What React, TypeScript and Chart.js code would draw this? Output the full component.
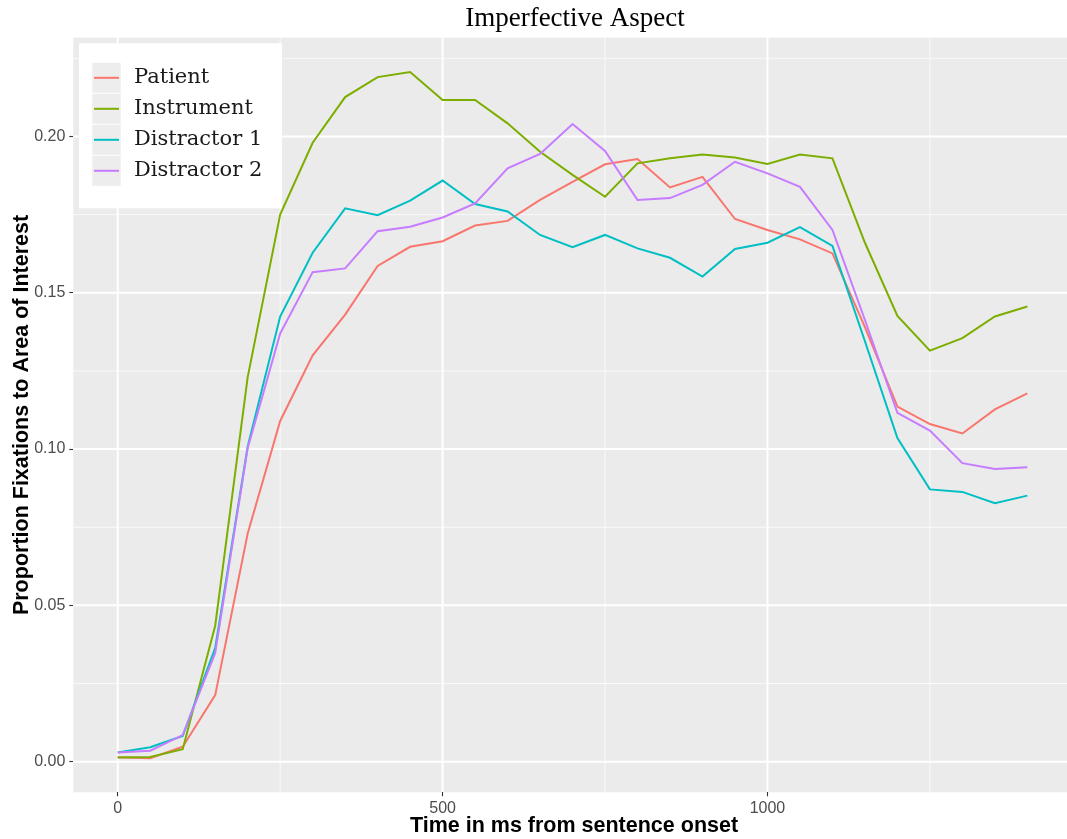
import React, { useEffect, useRef } from "react";
import { Chart, registerables } from "chart.js";

Chart.register(...registerables);

// ---------- data ----------
const times = [0, 50, 100, 150, 200, 250, 300, 350, 400, 450, 500, 550, 600, 650, 700, 750, 800, 850, 900, 950, 1000, 1050, 1100, 1150, 1200, 1250, 1300, 1350, 1400];

const patient = [0.0014, 0.0011, 0.0048, 0.0213, 0.073, 0.109, 0.130, 0.143, 0.1586, 0.1647, 0.1665, 0.1715, 0.173, 0.1797, 0.1855, 0.1911, 0.1928, 0.1837, 0.1871, 0.1736, 0.1701, 0.1671, 0.1626, 0.139, 0.1136, 0.108, 0.105, 0.1127, 0.1178];
const instrument = [0.0013, 0.0015, 0.004, 0.0435, 0.123, 0.175, 0.198, 0.2126, 0.219, 0.2206, 0.2117, 0.2117, 0.2042, 0.1951, 0.1877, 0.1807, 0.1914, 0.193, 0.1942, 0.1933, 0.1912, 0.1942, 0.193, 0.166, 0.1426, 0.1315, 0.1355, 0.1424, 0.1456];
const distractor1 = [0.0029, 0.0046, 0.0082, 0.0364, 0.1008, 0.1424, 0.1628, 0.177, 0.1748, 0.1795, 0.1859, 0.1784, 0.176, 0.1685, 0.1646, 0.1685, 0.1642, 0.1612, 0.1552, 0.164, 0.166, 0.171, 0.165, 0.1345, 0.1035, 0.0871, 0.0863, 0.0827, 0.0851];
const distractor2 = [0.0029, 0.0035, 0.0085, 0.0348, 0.1003, 0.137, 0.1566, 0.1578, 0.1697, 0.1711, 0.1741, 0.1786, 0.1898, 0.1944, 0.204, 0.1954, 0.1797, 0.1803, 0.1845, 0.1919, 0.1882, 0.1839, 0.1701, 0.1413, 0.1116, 0.1059, 0.0955, 0.0936, 0.0942];

const seriesNames = ["Patient", "Instrument", "Distractor 1", "Distractor 2"];
const seriesValues = [patient, instrument, distractor1, distractor2];
const seriesColors = ["#F8766D", "#7CAE00", "#00BFC4", "#C77CFF"];

const yMajor = [0, 0.05, 0.1, 0.15, 0.2];
const yMinor = [0.025, 0.075, 0.125, 0.175, 0.225];
const yTickLabels = ["0.00", "0.05", "0.10", "0.15", "0.20"];
const xMajor = [0, 500, 1000];
const xMinor = [250, 750, 1250];
const xTickLabels = ["0", "500", "1000"];

const titleText = "Imperfective Aspect";
const xTitle = "Time in ms from sentence onset";
const yTitle = "Proportion Fixations to Area of Interest";

const W = 1067;
const H = 839;

const panelPlugin = {
  id: "panel",
  beforeDraw(chart: any) {
    const { ctx, chartArea } = chart;
    const xs = chart.scales.x;
    const ys = chart.scales.y;
    ctx.save();
    ctx.fillStyle = "#EBEBEB";
    ctx.fillRect(chartArea.left, chartArea.top, chartArea.right - chartArea.left, chartArea.bottom - chartArea.top);
    // minor
    ctx.strokeStyle = "rgba(255,255,255,0.75)";
    ctx.lineWidth = 1;
    yMinor.forEach((v) => {
      const y = ys.getPixelForValue(v);
      ctx.beginPath();
      ctx.moveTo(chartArea.left, y);
      ctx.lineTo(chartArea.right, y);
      ctx.stroke();
    });
    xMinor.forEach((v) => {
      const x = xs.getPixelForValue(v);
      ctx.beginPath();
      ctx.moveTo(x, chartArea.top);
      ctx.lineTo(x, chartArea.bottom);
      ctx.stroke();
    });
    // major
    ctx.strokeStyle = "#FFFFFF";
    ctx.lineWidth = 2;
    yMajor.forEach((v) => {
      const y = ys.getPixelForValue(v);
      ctx.beginPath();
      ctx.moveTo(chartArea.left, y);
      ctx.lineTo(chartArea.right, y);
      ctx.stroke();
    });
    xMajor.forEach((v) => {
      const x = xs.getPixelForValue(v);
      ctx.beginPath();
      ctx.moveTo(x, chartArea.top);
      ctx.lineTo(x, chartArea.bottom);
      ctx.stroke();
    });
    ctx.restore();
  },
};

const textPlugin = {
  id: "texts",
  afterDraw(chart: any) {
    const { ctx, chartArea } = chart;
    ctx.save();
    // title
    ctx.fillStyle = "#000";
    ctx.font = "27px 'Liberation Serif'";
    ctx.textAlign = "center";
    ctx.textBaseline = "alphabetic";
    ctx.fillText(titleText, 575, 26);
    // x title
    ctx.font = "bold 21.5px 'Liberation Sans'";
    ctx.textBaseline = "middle";
    ctx.fillText(xTitle, 574, 826);
    // y title
    ctx.save();
    ctx.translate(22, (chartArea.top + chartArea.bottom) / 2);
    ctx.rotate(-Math.PI / 2);
    ctx.fillText(yTitle, 0, 0);
    ctx.restore();

    // legend
    ctx.fillStyle = "#FFFFFF";
    ctx.fillRect(79, 43.3, 203, 165);
    const rowH = 31;
    const top = 62.3;
    seriesNames.forEach((name, i) => {
      const y0 = top + i * rowH;
      ctx.fillStyle = "#EDEDED";
      ctx.fillRect(92.3, y0 + 0.5, 28.4, rowH - 1);
      const cy = y0 + rowH / 2;
      ctx.strokeStyle = seriesColors[i];
      ctx.lineWidth = 2;
      ctx.beginPath();
      ctx.moveTo(94, cy);
      ctx.lineTo(119, cy);
      ctx.stroke();
      ctx.fillStyle = "#1a1a1a";
      ctx.font = "21px 'DejaVu Serif'";
      ctx.textAlign = "left";
      ctx.textBaseline = "middle";
      ctx.fillText(name, 134, cy);
    });
    ctx.restore();
  },
};

export default function App() {
  const canvasRef = useRef<HTMLCanvasElement | null>(null);

  useEffect(() => {
    document.body.style.margin = "0";
    const canvas = canvasRef.current;
    if (!canvas) return;
    const chart = new Chart(canvas, {
      type: "line",
      data: {
        datasets: seriesNames.map((name, i) => ({
          label: name,
          data: times.map((t, j) => ({ x: t, y: seriesValues[i][j] })),
          borderColor: seriesColors[i],
          backgroundColor: seriesColors[i],
          borderWidth: 2,
          pointRadius: 0,
          tension: 0,
          fill: false,
          order: seriesNames.length - i,
        })),
      },
      options: {
        animation: false,
        responsive: false,
        devicePixelRatio: 1,
        events: [],
        layout: { padding: { top: 37.7, left: 0, right: 0, bottom: 0 } },
        plugins: {
          legend: { display: false },
          title: { display: false },
          tooltip: { enabled: false },
        },
        scales: {
          x: {
            type: "linear",
            min: -68.4,
            max: 1461,
            afterBuildTicks: (s: any) => {
              s.ticks = xMajor.map((v) => ({ value: v }));
            },
            afterFit: (s: any) => {
              s.height = H - 792.3;
            },
            border: { display: false },
            grid: {
              drawOnChartArea: false,
              drawTicks: true,
              tickLength: 4,
              tickColor: "#333333",
              tickWidth: 1.1,
            },
            ticks: {
              autoSkip: false,
              maxRotation: 0,
              padding: 3,
              color: "#4D4D4D",
              font: { family: "'Liberation Sans'", size: 16 },
              callback: (v: any) => {
                const k = xMajor.indexOf(Number(v));
                return k >= 0 ? xTickLabels[k] : "";
              },
            },
          },
          y: {
            type: "linear",
            min: -0.0098,
            max: 0.2316,
            afterBuildTicks: (s: any) => {
              s.ticks = yMajor.map((v) => ({ value: v }));
            },
            afterFit: (s: any) => {
              s.width = 73.3;
            },
            border: { display: false },
            grid: {
              drawOnChartArea: false,
              drawTicks: true,
              tickLength: 4,
              tickColor: "#333333",
              tickWidth: 1.1,
            },
            ticks: {
              autoSkip: false,
              padding: 4,
              color: "#4D4D4D",
              font: { family: "'Liberation Sans'", size: 16 },
              callback: (v: any) => {
                const k = yMajor.findIndex((m) => Math.abs(m - Number(v)) < 1e-9);
                return k >= 0 ? yTickLabels[k] : "";
              },
            },
          },
        },
      },
      plugins: [panelPlugin, textPlugin],
    } as any);
    return () => chart.destroy();
  }, []);

  return (
    <div style={{ position: "absolute", left: 0, top: 0, width: W, height: H, background: "#fff" }}>
      <canvas ref={canvasRef} width={W} height={H} style={{ display: "block", width: W, height: H }} />
    </div>
  );
}
